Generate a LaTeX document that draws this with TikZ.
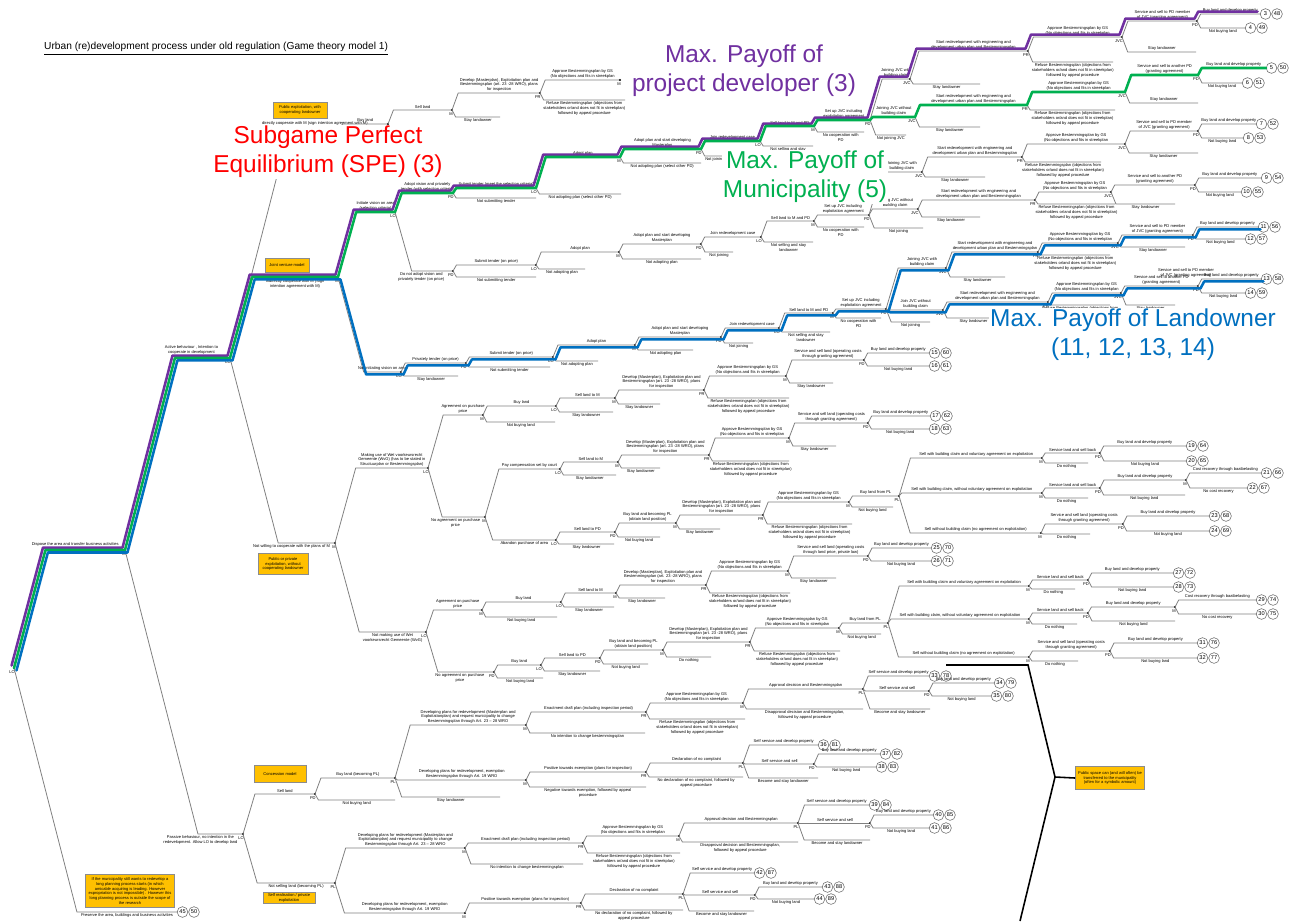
\documentclass[tikz,border=0pt]{standalone}
\usepackage{fontspec}
\setmainfont{Liberation Sans}
\usetikzlibrary{calc}

\definecolor{spered}{HTML}{FF0000}
\definecolor{pdpurple}{HTML}{7030A0}
\definecolor{mgreen}{HTML}{00B050}
\definecolor{loblue}{HTML}{0070C0}
\definecolor{notefill}{HTML}{FFC000}

\newcommand\lblfont{\fontsize{2.3}{2.8}\selectfont}
\newcommand\payfont{\fontsize{3.2}{3.4}\selectfont}
\newcommand\bigfont{\fontsize{13.9}{16.4}\selectfont}
\newcommand\titlefont{\fontsize{5.8}{6.5}\selectfont}

\newcommand\approvetxt{Approve Bestemmingsplan by GS\\(No objections and fits in streekplan}
\newcommand\refusetxt{Refuse Bestemmingsplan (objections from\\stakeholders or/and does not fit in streekplan)\\followed by appeal procedure}
\newcommand\developtxt{Develop (Masterplan), Exploitation plan and\\Bestemmingsplan (art. 23 -28 WRO), plans\\for inspection}
\newcommand\starttxt{Start redevelopment with engineering and\\development urban plan and Bestemmingsplan}
\newcommand\requesttxt{Developing plans for redevelopment (Masterplan and\\Exploitationplan) and request municipality to change\\Bestemmingsplan through Art. 23 -- 28 WRO}
\newcommand\exempttxt{Developing plans for redevelopment, exemption\\Bestemmingsplan through Art. 19 WRO}

\tikzset{
  branch/.style={draw=black!50, line width=0.45pt},
  lbl/.style={font=\lblfont, inner sep=0.5pt, align=center},
  plr/.style={font=\lblfont, inner sep=0pt, anchor=north east},
  pay/.style={circle, draw=black!60, line width=0.3pt, inner sep=0pt, minimum size=6.1pt, font=\payfont},
  note/.style={draw=black!45, fill=notefill, font=\lblfont, align=center, inner sep=0.5pt},
  big/.style={font=\bigfont, fill=white, align=center, inner sep=0.5pt},
  colpath/.style={line width=1.45pt, line join=round, line cap=round},
}

% branch: kink below/above the parent, then level run to the child
\newcommand\brline[5]{%
  \coordinate (#3) at #4;
  \path let \p1=(#2), \p2=(#3) in coordinate (#3k) at ({\x1+1.1pt+abs(\y2-(\y1))/4},\y2);
  \draw[branch] (#2) -- (#3k) -- node[lbl,#1] {#5} (#3);
}
\newcommand\tonode[6][above]{%
  \brline{#1}{#2}{#3}{#4}{#5}
  \fill (#3) circle (0.6pt);
  \node[plr] (#3p) at ([shift={(1,2)}]#3) {#6};
}
\newcommand\toend[5][below]{\brline{#1}{#2}{#3}{#4}{#5}}
\newcommand\topay[7][above]{%
  \brline{#1}{#2}{#3}{#4}{#5}
  \node[pay] (#3a) at ([shift={(5.5,0)}]#3) {#6};
  \node[pay] (#3b) at ([shift={(17,0)}]#3) {#7};
}

\begin{document}
\begin{tikzpicture}[x=0.02cm, y=-0.02cm]
\fill[white] (0,0) rectangle (1293,921);
\useasboundingbox (0,0) rectangle (1293,921);

\node[anchor=west, font=\titlefont] (title) at (38,49)
  {\underline{Urban (re)development process under old regulation (Game theory model 1)}};

%%%%% trunk %%%%%
\coordinate (root) at (14,668);
\fill (root) circle (0.6pt);
\node[plr] (rootp) at ([shift={(1,2)}]root) {LO};

\tonode[above, yshift=1.2pt, xshift=-0.2cm]{root}{m1}{(125,550)}{Dispose the area and transfer business activities}{M}
\topay[below]{root}{e45}{(177,912)}{Preserve the area, buildings and business activities}{45}{50}
\tonode[above, yshift=1.2pt, xshift=-0.22cm]{m1}{lo2}{(230,358)}{Active behaviour , Intention to\\cooperate in development}{LO}
\tonode[below, xshift=-0.4cm]{m1}{lo3}{(243,834)}{Passive behaviour, no intention in the\\redevelopment. Allow LO to develop land}{LO}
\tonode{lo2}{m4}{(340,127)}{directly cooperate with M (sign intention agreement with M)}{M}
\tonode[below, yshift=-1pt]{lo2}{m5}{(338,277)}{Indirectly cooperate with M (Sign\\intention agreement with M)}{M}
\tonode[below, xshift=-0.3cm]{lo2}{m6}{(335,543)}{Not willing to cooperate with the plans of M}{M}

%%%%% public exploitation %%%%%
\tonode{m4}{lo7}{(388,124)}{Buy land}{LO}
\tonode{lo7}{m8}{(452,110)}{Sell land}{M}
\tonode{m8}{pr9}{(540,93)}{\developtxt}{PR}
\toend{m8}{s9}{(500,117)}{Stay landowner}
\tonode{pr9}{m10}{(620,80)}{\approvetxt}{M}
\toend{pr9}{s10}{(625,100)}{\refusetxt}

%%%%% joint venture, vision with selection criteria %%%%%
\tonode{m5}{lo11}{(395,212)}{Initiate vision on area\\(selection criteria)}{LO}
\tonode{m5}{lo12}{(401,372)}{Not initiating vision on area}{LO}
\tonode{lo11}{pd13}{(453,193)}{Adopt vision and privately\\tender (with selection criteria)}{PD}
\tonode[below, xshift=-0.22cm]{lo11}{pd14}{(453,271)}{Do not adopt vision and\\privately tender (on price)}{PD}
\tonode{pd13}{lo15}{(536,188)}{Submit tender (meet the selection criteria)}{LO}
\toend{pd13}{s15}{(536,198)}{Not submitting tender}
\tonode{lo15}{m16}{(620,157)}{Adopt plan}{M}
\toend{lo15}{s16}{(621,194)}{Not adopting plan (select other PD)}
\tonode{m16}{pd17}{(701,149)}{Adopt plan and start developing\\Masterplan}{PD}
\toend{m16}{s17}{(701,163)}{Not adopting plan (select other PD)}
\tonode{pd17}{lo18}{(760,141)}{Join redevelopment case}{LO}
\toend{pd17}{s18}{(725,156)}{Not joining}
\tonode{lo18}{m19}{(814,126)}{Sell land to M and PD}{M}
\toend{lo18}{s19}{(813,146)}{Not selling and stay\\landowner}
\tonode{m19}{pd20}{(870,120)}{Set up JVC including\\exploitation agreement}{PD}
\toend{m19}{s20}{(864,132)}{No cooperation with\\PD}
\tonode{pd20}{jvc21}{(910,79)}{Joining JVC with\\building claim}{JVC}
\tonode{pd20}{jvc22}{(915,117)}{Joining JVC without\\building claim}{JVC}
\toend{pd20}{s22}{(906,135)}{Not joining JVC}
\tonode{jvc21}{pr23}{(1028,51)}{\starttxt}{PR}
\toend{jvc21}{s23}{(980,84)}{Stay landowner}
\tonode{pr23}{jvc24}{(1122,37)}{\approvetxt}{JVC}
\toend{pr23}{s24}{(1113,62)}{\refusetxt}
\tonode{jvc24}{pd25}{(1197,21)}{Service and sell to PD member\\of JVC (granting agreement)}{PD}
\toend[above]{jvc24}{s25}{(1196,52)}{Stay landowner}
\topay{pd25}{e3}{(1260,14)}{Buy land and develop property}{3}{48}
\topay[below]{pd25}{e4}{(1245,28)}{Not buying land}{4}{49}
\tonode{jvc22}{pr26}{(1027,105)}{\starttxt}{PR}
\toend{jvc22}{s26}{(980,127)}{Stay landowner}
\tonode{pr26}{jvc27}{(1125,92)}{\approvetxt}{JVC}
\toend{pr26}{s27}{(1115,110)}{\refusetxt}
\tonode{jvc27}{pd28}{(1198,75)}{Service and sell to another PD\\(granting agreement)}{PD}
\toend[above]{jvc27}{s28}{(1198,103)}{Stay landowner}
\topay{pd28}{e5}{(1266,68)}{Buy land and develop property}{5}{50}
\topay[below]{pd28}{e6}{(1242,83)}{Not buying land}{6}{51}

%%%%% joint venture, privately tender on price %%%%%
\tonode{pd14}{lo29}{(536,265)}{Submit tender (on price)}{LO}
\toend{pd14}{s29}{(536,277)}{Not submitting tender}
\tonode{lo29}{m30}{(619,252)}{Adopt plan}{M}
\toend{lo29}{s30}{(585,269)}{Not adopting plan}
\tonode{m30}{pd31}{(701,244)}{Adopt plan and start developing\\Masterplan}{PD}
\toend{m30}{s31}{(701,259)}{Not adopting plan}
\tonode{pd31}{lo32}{(761,237)}{Join redevelopment case}{LO}
\toend{pd31}{s32}{(733,252)}{Not joining}
\tonode{lo32}{m33}{(814,221)}{Sell land to M and PD}{M}
\toend{lo32}{s33}{(813,242)}{Not selling and stay\\landowner}
\tonode{m33}{pd34}{(869,215)}{Set up JVC including\\exploitation agreement}{PD}
\toend{m33}{s34}{(864,227)}{No cooperation with\\PD}
\tonode{pd34}{jvc35}{(922,172)}{Joining JVC with\\building claim}{JVC}
\tonode{pd34}{jvc36}{(918,209)}{Joining JVC without\\building claim}{JVC}
\toend{pd34}{s36}{(923,228)}{Not joining}
\tonode{jvc35}{pr37}{(1022,157)}{\starttxt}{PR}
\toend{jvc35}{s37}{(985,177)}{Stay landowner}
\tonode{pr37}{jvc38}{(1125,144)}{\approvetxt}{JVC}
\toend{pr37}{s38}{(1101,162)}{\refusetxt}
\tonode{jvc38}{pd39}{(1198,131)}{Service and sell to PD member\\of JVC (granting agreement)}{PD}
\toend{jvc38}{s39}{(1198,153)}{Stay landowner}
\topay{pd39}{e7}{(1256,124)}{Buy land and develop property}{7}{52}
\topay[below]{pd39}{e8}{(1243,138)}{Not buying land}{8}{53}
\tonode{jvc36}{pr40}{(1035,200)}{\starttxt}{PR}
\toend{jvc36}{s40}{(980,217)}{Stay landowner}
\tonode{pr40}{jvc41}{(1111,192)}{\approvetxt}{JVC}
\toend{pr40}{s41}{(1115,204)}{\refusetxt}
\tonode{jvc41}{pd42}{(1195,185)}{Service and sell to another PD\\(granting agreement)}{PD}
\toend{jvc41}{s42}{(1175,204)}{Stay landowner}
\topay{pd42}{e9}{(1261,178)}{Buy land and develop property}{9}{54}
\topay[below]{pd42}{e10}{(1241,192)}{Not buying land}{10}{55}

%%%%% joint venture, no vision %%%%%
\tonode{lo12}{pd43}{(466,363)}{Privately tender (on price)}{PD}
\toend{lo12}{s43}{(458,376)}{Stay landowner}
\tonode{pd43}{lo44}{(553,357)}{Submit tender (on price)}{LO}
\toend{pd43}{s44}{(550,367)}{Not submitting tender}
\tonode{lo44}{m45}{(635,345)}{Adopt plan}{M}
\toend{lo44}{s45}{(598,361)}{Not adopting plan}
\tonode{m45}{pd46}{(721,337)}{Adopt plan and start developing\\Masterplan}{PD}
\toend{m45}{s46}{(693,350)}{Not adopting plan}
\tonode{pd46}{lo47}{(779,328)}{Join redevelopment case}{LO}
\toend{pd46}{s47}{(753,343)}{Not joining}
\tonode{lo47}{m48}{(833,313)}{Sell land to M and PD}{M}
\toend{lo47}{s48}{(830,332)}{Not selling and stay\\landowner}
\tonode{m48}{pd49}{(886,309)}{Set up JVC including\\exploitation agreement}{PD}
\toend{m48}{s49}{(881,318)}{No cooperation with\\PD}
\tonode{pd49}{jvc50}{(946,268)}{Joining JVC with\\building claim}{JVC}
\tonode{pd49}{jvc51}{(943,310)}{Join JVC without\\building claim}{JVC}
\toend{pd49}{s51}{(930,322)}{Not joining}
\tonode{jvc50}{pr52}{(1038,252)}{\starttxt}{PR}
\toend{jvc50}{s52}{(1005,277)}{Stay landowner}
\tonode{pr52}{jvc53}{(1118,243)}{\approvetxt}{JVC}
\toend{pr52}{s53}{(1110,255)}{\refusetxt}
\tonode{jvc53}{pd54}{(1193,235)}{Service and sell to PD member\\of JVC (granting agreement)}{PD}
\toend{jvc53}{s54}{(1185,247)}{Stay landowner}
\topay{pd54}{e11}{(1258,227)}{Buy land and develop property}{11}{56}
\topay[below]{pd54}{e12}{(1245,239)}{Not buying land}{12}{57}
\tonode{jvc51}{pr55}{(1048,302)}{\starttxt}{PR}
\toend{jvc51}{s55}{(1000,318)}{Stay landowner}
\tonode{pr55}{jvc56}{(1121,293)}{\approvetxt}{JVC}
\toend{pr55}{s56}{(1110,305)}{\refusetxt}
\tonode{jvc56}{pd57}{(1198,286)}{Service and sell to another PD\\(granting agreement)}{PD}
\toend{jvc56}{s57}{(1175,305)}{Stay landowner}
\topay{pd57}{e13}{(1261,279)}{Buy land and develop property}{13}{58}
\topay[below]{pd57}{e14}{(1245,293)}{Not buying land}{14}{59}
\node[lbl] (stray) at (1186,273) {Service and sell to PD member\\of JVC (granting agreement)};

%%%%% not willing: WvG %%%%%
\tonode{m6}{lo58}{(428,468)}{Making use of Wet voorkeursrecht\\Gemeente (WvG) (has to be stated in\\Structuurplan or Bestemmingsplan)}{LO}
\tonode[below]{m6}{lo59}{(426,632)}{Not making use of Wet\\voorkeursrecht Gemeente (WvG)}{LO}
\tonode{lo58}{m60}{(483,415)}{Agreement on purchase\\price}{M}
\tonode[below, xshift=-0.16cm]{lo58}{m61}{(485,517)}{No agreement on purchase\\price}{M}
\tonode{m60}{lo62}{(556,406)}{Buy land}{LO}
\toend{m60}{s62}{(555,422)}{Not buying land}
\tonode{lo62}{m63}{(615,398)}{Sell land to M}{M}
\toend{lo62}{s63}{(613,412)}{Stay landowner}
\tonode{m63}{pr64}{(704,390)}{\developtxt}{PR}
\toend{m63}{s64}{(660,404)}{Stay landowner}
\tonode{pr64}{m65}{(786,376)}{\approvetxt}{M}
\toend{pr64}{s65}{(789,398)}{\refusetxt}
\tonode{m65}{pd66}{(864,360)}{Service and sell land (operating costs\\through granting agreement)}{PD}
\toend{m65}{s66}{(833,383)}{Stay landowner}
\topay{pd66}{e15}{(929,353)}{Buy land and develop property}{15}{60}
\topay[below]{pd66}{e16}{(929,366)}{Not buying land}{16}{61}
\tonode{m61}{lo67}{(560,469)}{Pay compensation set by court}{LO}
\tonode[below]{m61}{lo68}{(556,540)}{Abandon purchase of area}{LO}
\tonode{lo67}{m69}{(618,462)}{Sell land to M}{M}
\toend{lo67}{s69}{(616,475)}{Stay landowner}
\tonode{m69}{pr70}{(709,455)}{\developtxt}{PR}
\toend{m69}{s70}{(660,468)}{Stay landowner}
\tonode{pr70}{m71}{(789,438)}{\approvetxt}{M}
\toend{pr70}{s71}{(789,461)}{\refusetxt}
\tonode{m71}{pd72}{(868,423)}{Service and sell land (operating costs\\through granting agreement)}{PD}
\toend{m71}{s72}{(836,446)}{Stay landowner}
\topay{pd72}{e17}{(930,416)}{Buy land and develop property}{17}{62}
\topay[below]{pd72}{e18}{(929,429)}{Not buying land}{18}{63}
\tonode{lo68}{pd73}{(615,532)}{Sell land to PD}{PD}
\toend{lo68}{s73}{(614,544)}{Stay landowner}
\tonode{pd73}{m74}{(676,523)}{Buy land and becoming PL\\(obtain land position)}{M}
\toend{pd73}{s74}{(660,537)}{Not buying land}
\tonode{m74}{pr75}{(763,515)}{\developtxt}{PR}
\toend{m74}{s75}{(720,529)}{Stay landowner}
\tonode{pr75}{m76}{(849,502)}{\approvetxt}{M}
\toend{pr75}{s76}{(852,524)}{\refusetxt}
\tonode{m76}{pl77}{(899,496)}{Buy land from PL}{PL}
\toend{m76}{s77}{(893,507)}{Not buying land}
\tonode{pl77}{m78}{(1042,458)}{Sell with building claim and voluntary agreement on exploitation}{M}
\tonode{pl77}{m79}{(1042,493)}{Sell with building claim, without voluntary agreement on exploitation}{M}
\tonode{pl77}{m80}{(1041,533)}{Sell without building claim (no agreement on exploitation)}{M}
\tonode{m78}{pd81}{(1100,453)}{Service land and sell back}{PD}
\toend{m78}{s81}{(1088,463)}{Do nothing}
\topay{pd81}{e19}{(1186,446)}{Buy land and develop property}{19}{64}
\topay[below]{pd81}{e20}{(1186,461)}{Not buying land}{20}{65}
\tonode{m79}{pd82}{(1100,488)}{Service land and sell back}{PD}
\toend{m79}{s82}{(1088,498)}{Do nothing}
\tonode{pd82}{m83}{(1186,480)}{Buy land and develop property}{M}
\toend{pd82}{s83}{(1185,495)}{Not buying land}
\topay{m83}{e21}{(1261,473)}{Cost recovery through baatbelasting}{21}{66}
\topay[below]{m83}{e22}{(1247,488)}{No cost recovery}{22}{67}
\tonode{m80}{pd84}{(1123,524)}{Service and sell land (operating costs\\through granting agreement)}{PD}
\toend{m80}{s84}{(1090,534)}{Do nothing}
\topay{pd84}{e23}{(1209,516)}{Buy land and develop property}{23}{68}
\topay[below]{pd84}{e24}{(1209,531)}{Not buying land}{24}{69}

%%%%% not willing: no WvG %%%%%
\tonode{lo59}{m85}{(482,610)}{Agreement on purchase\\price}{M}
\tonode[below, xshift=-0.12cm]{lo59}{pd86}{(494,672)}{No agreement on purchase\\price}{PD}
\tonode{m85}{lo87}{(561,602)}{Buy land}{LO}
\toend{m85}{s87}{(557,617)}{Not buying land}
\tonode{lo87}{m88}{(616,593)}{Sell land to M}{M}
\toend{lo87}{s88}{(614,607)}{Stay landowner}
\tonode{m88}{pr89}{(706,585)}{\developtxt}{PR}
\toend{m88}{s89}{(665,598)}{Stay landowner}
\tonode{pr89}{m90}{(788,571)}{\approvetxt}{M}
\toend{pr89}{s90}{(790,593)}{\refusetxt}
\tonode{m90}{pd91}{(868,556)}{Service and sell land (operating costs\\through land price, private law)}{PD}
\toend{m90}{s91}{(836,578)}{Stay landowner}
\topay{pd91}{e25}{(931,548)}{Buy land and develop property}{25}{70}
\topay[below]{pd91}{e26}{(931,561)}{Not buying land}{26}{71}
\tonode{pd86}{lo92}{(541,665)}{Buy land}{LO}
\toend{pd86}{s92}{(543,678)}{Not buying land}
\tonode{lo92}{pd93}{(600,658)}{Sell land to PD}{PD}
\toend{lo92}{s93}{(600,671)}{Stay landowner}
\tonode{pd93}{m94}{(663,650)}{Buy land and becoming PL\\(obtain land position)}{M}
\toend{pd93}{s94}{(648,664)}{Not buying land}
\tonode{m94}{pr95}{(750,642)}{\developtxt}{PR}
\toend{m94}{s95}{(711,657)}{Do nothing}
\tonode{pr95}{m96}{(839,628)}{\approvetxt}{M}
\toend{pr95}{s96}{(840,651)}{\refusetxt}
\tonode{m96}{pl97}{(888,623)}{Buy land from PL}{PL}
\toend{m96}{s97}{(881,634)}{Not buying land}
\tonode{pl97}{m98}{(1029,586)}{Sell with building claim and voluntary agreement on exploitation}{M}
\tonode{pl97}{m99}{(1029,619)}{Sell with building claim, without voluntary agreement on exploitation}{M}
\tonode{pl97}{m100}{(1029,657)}{Sell without building claim (no agreement on exploitation)}{M}
\tonode{m98}{pd101}{(1088,580)}{Service land and sell back}{PD}
\toend{m98}{s101}{(1075,589)}{Do nothing}
\topay{pd101}{e27}{(1173,573)}{Buy land and develop property}{27}{72}
\topay[below]{pd101}{e28}{(1173,587)}{Not buying land}{28}{73}
\tonode{m99}{pd102}{(1088,613)}{Service land and sell back}{PD}
\toend{m99}{s102}{(1077,624)}{Do nothing}
\tonode{pd102}{m103}{(1175,607)}{Buy land and develop property}{M}
\toend{pd102}{s103}{(1175,621)}{Not buying land}
\topay{m103}{e29}{(1256,600)}{Cost recovery through baatbelasting}{29}{74}
\topay[below]{m103}{e30}{(1256,614)}{No cost recovery}{30}{75}
\tonode{m100}{pd104}{(1110,651)}{Service and sell land (operating costs\\through granting agreement)}{PD}
\toend{m100}{s104}{(1078,661)}{Do nothing}
\topay{pd104}{e31}{(1197,643)}{Buy land and develop property}{31}{76}
\topay[below]{pd104}{e32}{(1197,658)}{Not buying land}{32}{77}

%%%%% passive municipality %%%%%
\tonode{lo3}{pd105}{(315,794)}{Sell land}{PD}
\tonode[below]{lo3}{pl106}{(335,883)}{Not selling land (becoming PL)}{PL}
\tonode{pd105}{pl107}{(395,778)}{Buy land (becoming PL)}{PL}
\toend{pd105}{s107}{(395,800)}{Not buying land}
\tonode{pl107}{m108}{(526,725)}{\requesttxt}{M}
\tonode{pl107}{m109}{(526,780)}{\exempttxt}{M}
\toend{pl107}{s109}{(500,797)}{Stay landowner}
\tonode{m108}{pr110}{(646,712)}{Enactment draft plan (including inspection period)}{PR}
\toend{m108}{s110}{(645,733)}{No intention to change bestemmingsplan}
\tonode{pr110}{m111}{(743,703)}{\approvetxt}{M}
\toend{pr110}{s111}{(745,719)}{\refusetxt}
\tonode{m111}{pl112}{(863,689)}{Approval decision and Bestemmingsplan}{PL}
\toend{m111}{s112}{(863,709)}{Disapproval decision and Bestemmingsplan,\\followed by appeal procedure}
\topay{pl112}{e33}{(929,676)}{Self service and develop property}{33}{78}
\tonode{pl112}{pd113}{(929,691)}{Self service and sell}{PD}
\toend{pl112}{s113}{(930,709)}{Become and stay landowner}
\topay{pd113}{e34}{(994,683)}{Buy land and develop property}{34}{79}
\topay[below]{pd113}{e35}{(991,696)}{Not buying land}{35}{80}
\tonode{m109}{pr114}{(646,772)}{Positive towards exemption (plans for inspection)}{PR}
\toend{m109}{s114}{(646,787)}{Negative towards exemption, followed by appeal\\procedure}
\tonode{pr114}{pl115}{(743,763)}{Declaration of no complaint}{PL}
\toend{pr114}{s115}{(743,777)}{No declaration of no complaint, followed by\\appeal procedure}
\topay{pl115}{e36}{(818,745)}{Self service and develop property}{36}{81}
\tonode{pl115}{pd116}{(814,764)}{Self service and sell}{PD}
\toend{pl115}{s116}{(818,778)}{Become and stay landowner}
\topay{pd116}{e37}{(880,754)}{Buy land and develop property}{37}{82}
\topay[below]{pd116}{e38}{(876,767)}{Not buying land}{38}{83}
\tonode{pl106}{m117}{(465,848)}{\requesttxt}{M}
\tonode{pl106}{m118}{(465,913)}{\exempttxt}{M}
\tonode{m117}{pr119}{(583,843)}{Enactment draft plan (including inspection period)}{PR}
\toend{m117}{s119}{(583,864)}{No intention to change bestemmingsplan}
\tonode{pr119}{m120}{(679,836)}{\approvetxt}{M}
\toend{pr119}{s120}{(680,853)}{\refusetxt}
\tonode{m120}{pl121}{(798,823)}{Approval decision and Bestemmingsplan}{PL}
\toend{m120}{s121}{(798,842)}{Disapproval decision and Bestemmingsplan,\\followed by appeal procedure}
\topay{pl121}{e39}{(869,805)}{Self service and develop property}{39}{84}
\tonode{pl121}{pd122}{(870,823)}{Self service and sell}{PD}
\toend{pl121}{s122}{(870,840)}{Become and stay landowner}
\topay{pd122}{e40}{(933,815)}{Buy land and develop property}{40}{85}
\topay[below]{pd122}{e41}{(929,828)}{Not buying land}{41}{86}
\tonode{m118}{pr123}{(581,903)}{Positive towards exemption (plans for inspection)}{PR}
\tonode{pr123}{pl124}{(683,894)}{Declaration of no complaint}{PL}
\toend{pr123}{s124}{(683,910)}{No declaration of no complaint, followed by\\appeal procedure}
\topay{pl124}{e42}{(754,873)}{Self service and develop property}{42}{87}
\tonode{pl124}{pd125}{(755,895)}{Self service and sell}{PD}
\toend{pl124}{s125}{(754,911)}{Become and stay landowner}
\topay{pd125}{e43}{(822,887)}{Buy land and develop property}{43}{88}
\topay[below]{pd125}{e44}{(814,899)}{Not buying land}{44}{89}

%%%%% payoff paths %%%%%
\draw[colpath, pdpurple, transform canvas={xshift=-1.4pt, yshift=1.4pt}]
  (root) -- (m1k) -- (m1) -- (lo2k) -- (lo2) -- (m5k) -- (m5) -- (lo11k) -- (lo11)
  -- (pd13k) -- (pd13) -- (lo15k) -- (lo15) -- (m16k) -- (m16) -- (pd17k) -- (pd17)
  -- (lo18k) -- (lo18) -- (m19k) -- (m19) -- (pd20k) -- (pd20) -- (jvc21k) -- (jvc21)
  -- (pr23k) -- (pr23) -- (jvc24k) -- (jvc24) -- (pd25k) -- (pd25) -- (e3k) -- (e3);
\draw[colpath, mgreen]
  (root) -- (m1k) -- (m1) -- (lo2k) -- (lo2) -- (m5k) -- (m5) -- (lo11k) -- (lo11)
  -- (pd13k) -- (pd13) -- (lo15k) -- (lo15) -- (m16k) -- (m16) -- (pd17k) -- (pd17)
  -- (lo18k) -- (lo18) -- (m19k) -- (m19) -- (pd20k) -- (pd20) -- (jvc22k) -- (jvc22)
  -- (pr26k) -- (pr26) -- (jvc27k) -- (jvc27) -- (pd28k) -- (pd28) -- (e5k) -- (e5);
\begin{scope}[transform canvas={xshift=1.4pt, yshift=-1.4pt}]
\draw[colpath, loblue]
  (root) -- (m1k) -- (m1) -- (lo2k) -- (lo2) -- (m5k) -- (m5) -- (lo12k) -- (lo12)
  -- (pd43k) -- (pd43) -- (lo44k) -- (lo44) -- (m45k) -- (m45) -- (pd46k) -- (pd46)
  -- (lo47k) -- (lo47) -- (m48k) -- (m48) -- (pd49k) -- (pd49) -- (jvc50k) -- (jvc50)
  -- (pr52k) -- (pr52) -- (jvc53k) -- (jvc53) -- (pd54k) -- (pd54) -- (e11k) -- (e11);
\draw[colpath, loblue]
  (pd49) -- (jvc51k) -- (jvc51) -- (pr55k) -- (pr55) -- (jvc56k) -- (jvc56)
  -- (pd57k) -- (pd57) -- (e13k) -- (e13);
\end{scope}

%%%%% public space bracket %%%%%
\node[note, minimum width=1.38cm, minimum height=0.46cm] (pubspace) at (1110,778)
  {Public space can (and will often) be\\transferred to the municipality\\(often for a symbolic amount)};
\coordinate (brtop) at (946,665);
\coordinate (brknee) at (1028,665);
\coordinate (brmid) at (1055,777);
\coordinate (brbot) at (1020,921);
\draw[line width=0.9pt] (brtop) -- (brknee) -- (brmid) -- (brbot);
\draw[line width=0.9pt] (brmid) -- (pubspace.west);

%%%%% model boxes %%%%%
\node[note, minimum width=1.08cm, minimum height=0.32cm] (boxpublic) at (300,110) {Public exploitation, with\\cooperating landowner};
\node[note, minimum width=0.88cm, minimum height=0.28cm] (boxjv) at (287,265) {Joint venture model};
\node[note, minimum width=1.0cm, minimum height=0.42cm] (boxpriv) at (283,564) {Public or private\\exploitation, without\\cooperating landowner};
\node[note, minimum width=1.04cm, minimum height=0.34cm] (boxconc) at (280,774) {Concession model};
\node[note, minimum width=1.04cm, minimum height=0.22cm] (boxself) at (289,898) {Self realisation / private\\exploitation};
\node[note, minimum width=1.78cm, minimum height=0.66cm] (boxlong) at (130,891)
  {If the municipality still wants to redevelop a\\long planning process starts (in which\\amicable acquiring is leading. However\\expropriation is not impossible) . However this\\long planning process is outside the scope of\\the research};

%%%%% equilibrium labels %%%%%
\node[big, text=spered] (spe) at (328,152) {Subgame Perfect\\Equilibrium (SPE) (3)};
\node[big, text=pdpurple] (maxpd) at (744,71) {Max. Payoff of\\project developer (3)};
\node[big, text=mgreen] (maxm) at (805,177) {Max. Payoff of\\Municipality (5)};
\node[big, text=loblue] (maxlo) at (1133,335) {Max. Payoff of Landowner\\(11, 12, 13, 14)};

\end{tikzpicture}
\end{document}
